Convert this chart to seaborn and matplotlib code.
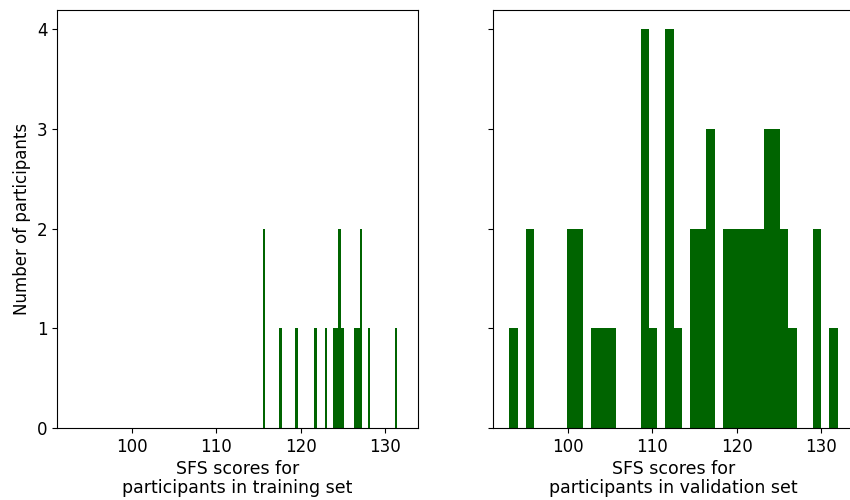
import matplotlib
matplotlib.use('Agg')
import matplotlib.pyplot as plt
import seaborn as sns
import pandas as pd

# SFS scores
train_scores = [115.5, 115.6, 117.6, 119.6, 121.7, 122.9,
                124.0, 124.3, 124.6, 124.7, 124.9,
                126.5, 126.8, 127.1, 127.2, 128.1, 131.5]
valid_scores = [93, 95, 95, 100, 100, 101, 101, 103, 104, 105,
                109, 109, 109, 109, 110, 112, 112, 112, 112, 113,
                115, 115, 116, 116, 117, 117, 117,
                119, 119, 120, 120, 121, 121, 122, 122, 123, 123,
                124, 124, 124, 125, 125, 125, 126, 126, 127,
                130, 130, 132]
train_bins = 50
valid_bins = 40

df_train = pd.DataFrame({'score': train_scores})
df_valid = pd.DataFrame({'score': valid_scores})

fig, axs = plt.subplots(ncols=2, sharex=True, sharey=True, figsize=(8.5, 5), dpi=100)
# the reference is cropped on the right, so the second panel runs off the edge
axs[0].set_position([57 / 850, 0.144, 361 / 850, 0.837])
axs[1].set_position([493 / 850, 0.144, 361 / 850, 0.837])

sns.histplot(data=df_train, x='score', bins=train_bins, ax=axs[0],
             color='darkgreen', alpha=1, linewidth=0)
sns.histplot(data=df_valid, x='score', bins=valid_bins, ax=axs[1],
             color='darkgreen', alpha=1, linewidth=0)

axs[0].set_xlabel('SFS scores for\nparticipants in training set',
                  fontsize=12.5, linespacing=1.05, labelpad=3)
axs[1].set_xlabel('SFS scores for\nparticipants in validation set',
                  fontsize=12.5, linespacing=1.05, labelpad=3)
axs[0].set_ylabel('Number of participants', fontsize=12)
axs[1].set_ylabel('')
axs[0].set_yticks([0, 1, 2, 3, 4])
axs[0].set_xticks([100, 110, 120, 130])
for ax in axs:
    ax.tick_params(labelsize=12)

plt.savefig('out.png', dpi=100)
plt.close()
